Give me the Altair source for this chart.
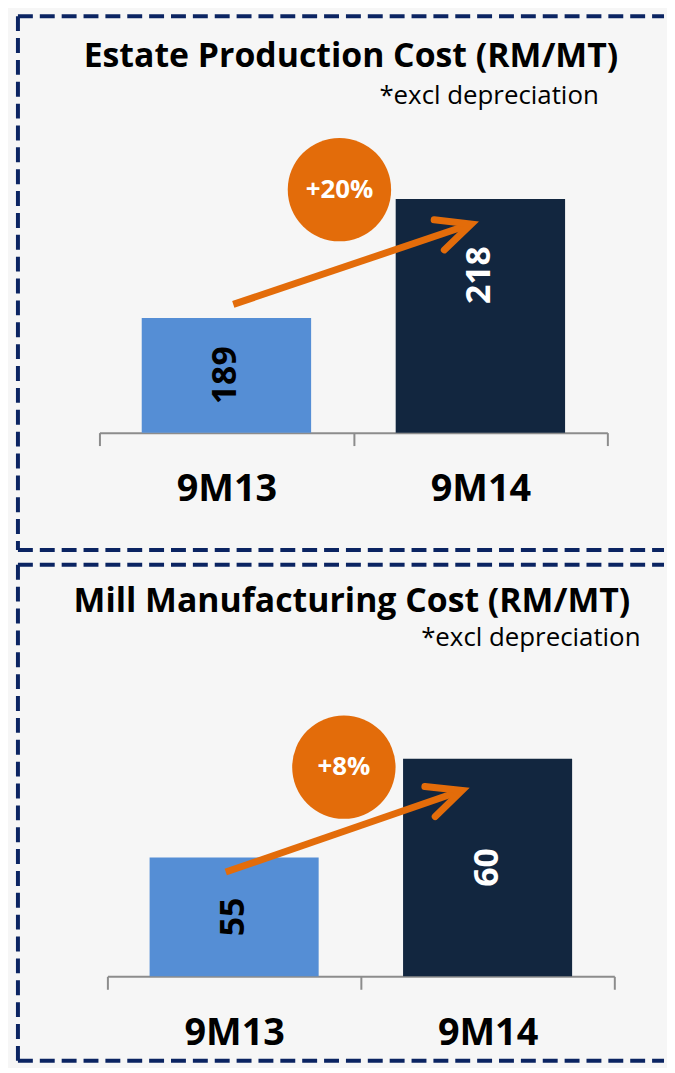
import math
import altair as alt
import pandas as pd

# ---------------- data ----------------
categories = ["9M13", "9M14"]
estate_cost = [189, 218]
mill_cost = [55, 60]
estate_change = ["+20%"]
mill_change = ["+8%"]
titles = ["Estate Production Cost (RM/MT)", "Mill Manufacturing Cost (RM/MT)"]
subtitles = ["*excl depreciation"]

# ---------------- style ----------------
BAR_COLORS = ["#558ed5", "#12263f"]
ORANGE = "#e36c0a"
BORDER = "#0b2462"
AXIS_GREY = "#8c8c8c"
BG = "#f6f6f6"
FONT = "Open Sans"
W = 659


def panel(title, values, change, H, xr, yr, ydom, title_xy, sub_xy,
          arrow, badge, shift_last, borders, label_pad, title_size, sub_size,
          val_size, badge_size):
    df = pd.DataFrame({"period": categories, "value": values})
    yscale = alt.Scale(domain=ydom, range=yr, zero=False, nice=False)
    bscale = alt.Scale(domain=categories, range=xr, paddingInner=0, paddingOuter=0)
    qscale = alt.Scale(domain=[0, 2], range=xr, zero=False, nice=False)

    axis = alt.Axis(
        orient="bottom", offset=-(H - yr[0]), tickBand="extent",
        domainColor=AXIS_GREY, domainWidth=2, tickColor=AXIS_GREY, tickWidth=2,
        tickSize=13, labelFont=FONT, labelFontWeight="bold", labelFontSize=38,
        labelColor="black", labelBaseline="alphabetic", labelPadding=label_pad,
        labelAngle=0, grid=False, title=None,
    )
    x_axis = alt.X("period:N", sort=categories, scale=bscale, axis=axis, title=None)
    x_plain = alt.X("period:N", sort=categories, scale=bscale, axis=None, title=None)

    base = alt.Chart(df)
    bars = base.mark_bar(width=alt.RelativeBandSize(0.667)).encode(
        x=x_axis,
        y=alt.Y("value:Q", scale=yscale, axis=None),
        y2=alt.datum(ydom[0]),
        color=alt.Color("period:N", scale=alt.Scale(domain=categories, range=BAR_COLORS), legend=None),
    )
    mid_expr = f"(datum.value + {ydom[0]}) / 2"
    lab1 = base.transform_filter(alt.datum.period == categories[0]).transform_calculate(
        mid=mid_expr
    ).mark_text(angle=270, font=FONT, fontWeight="bold", fontSize=val_size, color="black",
                baseline="middle").encode(
        x=x_plain, y=alt.Y("mid:Q", scale=yscale, axis=None), text="value:Q"
    )
    lab2 = base.transform_filter(alt.datum.period == categories[1]).transform_calculate(
        mid=mid_expr
    ).mark_text(angle=270, font=FONT, fontWeight="bold", fontSize=val_size, color="white",
                baseline="middle", dx=shift_last).encode(
        x=x_plain, y=alt.Y("mid:Q", scale=yscale, axis=None), text="value:Q"
    )

    # annotation: arrow + badge (positions in chart units)
    (ax1, ay1), (ax2, ay2) = arrow
    adf = pd.DataFrame({"x1": [ax1], "y1": [ay1], "x2": [ax2], "y2": [ay2]})
    px_dx = (ax2 - ax1) * (xr[1] - xr[0]) / 2
    px_dy = (ay2 - ay1) * (yr[1] - yr[0]) / (ydom[1] - ydom[0])
    ang = math.degrees(math.atan2(px_dy, px_dx)) % 360

    shaft = alt.Chart(adf).mark_rule(strokeWidth=7, color=ORANGE, strokeCap="butt").encode(
        x=alt.X("x1:Q", scale=qscale, axis=None), x2="x2:Q",
        y=alt.Y("y1:Q", scale=yscale, axis=None), y2="y2:Q",
    )
    head = alt.Chart(adf).mark_point(
        shape="M-1,-0.47L0,0L-1,0.47", filled=False, strokeWidth=7, size=4624,
        angle=ang, color=ORANGE, opacity=1, strokeJoin="miter", strokeCap="round",
    ).encode(
        x=alt.X("x2:Q", scale=qscale, axis=None),
        y=alt.Y("y2:Q", scale=yscale, axis=None),
    )
    bdf = pd.DataFrame({"bx": [badge[0]], "by": [badge[1]], "txt": change})
    circ = alt.Chart(bdf).mark_circle(size=10816, color=ORANGE, opacity=1).encode(
        x=alt.X("bx:Q", scale=qscale, axis=None),
        y=alt.Y("by:Q", scale=yscale, axis=None),
    )
    btxt = alt.Chart(bdf).mark_text(font=FONT, fontWeight="bold", fontSize=badge_size, color="white",
                                    baseline="middle").encode(
        x=alt.X("bx:Q", scale=qscale, axis=None),
        y=alt.Y("by:Q", scale=yscale, axis=None),
        text="txt:N",
    )

    tdf = pd.DataFrame({"t": [title]})
    ttl = alt.Chart(tdf).mark_text(font=FONT, fontWeight="bold", fontSize=title_size, color="black",
                                   align="center", baseline="middle").encode(
        x=alt.value(title_xy[0]), y=alt.value(title_xy[1]), text="t:N")
    sdf = pd.DataFrame({"t": subtitles})
    sub = alt.Chart(sdf).mark_text(font=FONT, fontSize=sub_size, color="black",
                                   align="center", baseline="middle").encode(
        x=alt.value(sub_xy[0]), y=alt.value(sub_xy[1]), text="t:N")

    bx0, btop, bbot = borders
    one = pd.DataFrame({"k": [0]})
    rule_kw = dict(strokeDash=[15, 7], strokeWidth=4, color=BORDER)
    b_top = alt.Chart(one).mark_rule(**rule_kw).encode(
        x=alt.value(bx0), x2=alt.value(W), y=alt.value(btop))
    b_left = alt.Chart(one).mark_rule(**rule_kw).encode(
        x=alt.value(bx0), y=alt.value(btop), y2=alt.value(bbot))
    b_bot = alt.Chart(one).mark_rule(**rule_kw).encode(
        x=alt.value(bx0), x2=alt.value(W), y=alt.value(bbot))

    return alt.layer(
        bars, lab1, lab2, shaft, head, circ, btxt, ttl, sub, b_top, b_left, b_bot
    ).resolve_scale(x="independent").properties(width=W, height=H)


p1 = panel(
    titles[0], estate_cost, estate_change, H=548,
    xr=[91, 602], yr=[423, 188], ydom=[161, 218],
    title_xy=(344, 45), sub_xy=(483, 84),
    arrow=((0.527, 192.3), (1.464, 211.9)), badge=(0.945, 220.3),
    shift_last=41, borders=(9, 4, 541), label_pad=55,
    title_size=34, sub_size=26, val_size=34, badge_size=26,
)
p2 = panel(
    titles[1], mill_cost, mill_change, H=508,
    xr=[99, 609], yr=[420, 201], ydom=[49, 60],
    title_xy=(345, 43), sub_xy=(525, 80),
    arrow=((0.467, 54.27), (1.399, 58.39)), badge=(0.933, 59.57),
    shift_last=0, borders=(9, 6, 505), label_pad=56,
    title_size=34, sub_size=26, val_size=34, badge_size=26,
)

chart = alt.vconcat(p1, p2, spacing=0).properties(
    padding={"left": 0, "top": 0, "right": 0, "bottom": 0}, background=BG
).configure_view(stroke="transparent")

chart.save("out.html", embed_options={"renderer": "svg", "actions": False})
